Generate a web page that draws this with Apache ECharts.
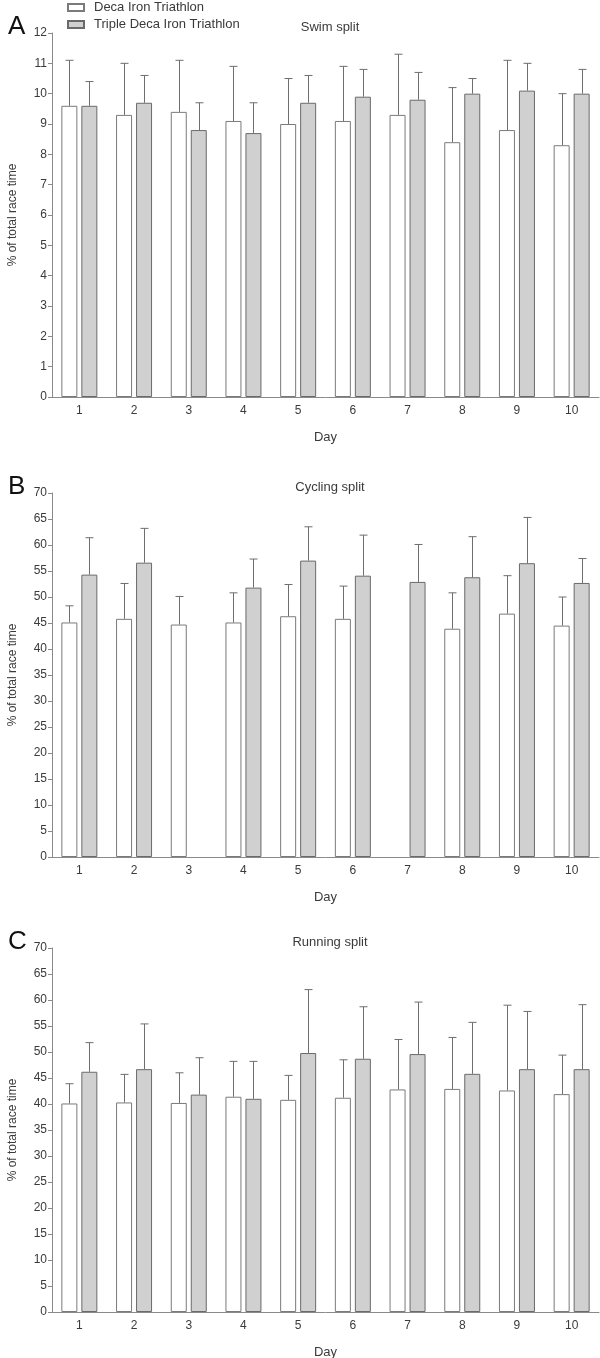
<!DOCTYPE html>
<html lang="en">

<head>
  <meta charset="UTF-8">
  <title>Split times</title>
  <script src="https://cdn.jsdelivr.net/npm/echarts@6/dist/echarts.min.js"></script>
  <style>
    * {
      padding: 0;
      margin: 0;
    }

    #box {
      width: 600px;
      height: 1358px;
      background: #fff;
    }
  </style>
</head>

<body>
  <div id="box"></div>
  <script>
    var days = ['1', '2', '3', '4', '5', '6', '7', '8', '9', '10']

    // swim split (A)
    var swimDeca = [9.6, 9.3, 9.4, 9.1, 9.0, 9.1, 9.3, 8.4, 8.8, 8.3]
    var swimDecaUp = [11.1, 11.0, 11.1, 10.9, 10.5, 10.9, 11.3, 10.2, 11.1, 10.0]
    var swimTriple = [9.6, 9.7, 8.8, 8.7, 9.7, 9.9, 9.8, 10.0, 10.1, 10.0]
    var swimTripleUp = [10.4, 10.6, 9.7, 9.7, 10.6, 10.8, 10.7, 10.5, 11.0, 10.8]

    // cycling split (B)
    var cycDeca = [45.1, 45.8, 44.7, 45.1, 46.3, 45.8, null, 43.9, 46.8, 44.5]
    var cycDecaUp = [48.3, 52.6, 50.1, 50.8, 52.4, 52.1, null, 50.8, 54.1, 50.0]
    var cycTriple = [54.3, 56.6, null, 51.8, 57.0, 54.1, 52.9, 53.8, 56.5, 52.7]
    var cycTripleUp = [61.4, 63.2, null, 57.3, 63.5, 61.9, 60.1, 61.6, 65.3, 57.4]

    // running split (C)
    var runDeca = [40.1, 40.3, 40.2, 41.4, 40.8, 41.2, 42.8, 42.9, 42.6, 41.9]
    var runDecaUp = [43.9, 45.7, 46.0, 48.2, 45.5, 48.5, 52.4, 52.8, 59.0, 49.4]
    var runTriple = [46.2, 46.7, 41.8, 41.0, 49.8, 48.7, 49.6, 45.8, 46.7, 46.7]
    var runTripleUp = [51.8, 55.4, 48.9, 48.2, 62.0, 58.7, 59.6, 55.7, 57.8, 59.1]

    var panels = [
      { letter: 'A', title: 'Swim split', top: 33, max: 12, interval: 1, deca: swimDeca, decaUp: swimDecaUp, triple: swimTriple, tripleUp: swimTripleUp },
      { letter: 'B', title: 'Cycling split', top: 493, max: 70, interval: 5, deca: cycDeca, decaUp: cycDecaUp, triple: cycTriple, tripleUp: cycTripleUp },
      { letter: 'C', title: 'Running split', top: 948, max: 70, interval: 5, deca: runDeca, decaUp: runDecaUp, triple: runTriple, tripleUp: runTripleUp }
    ]

    var font = 'Liberation Sans, Arial, sans-serif'
    var axisColor = '#8a8a8a'
    var textColor = '#3a3a3a'

    function errData(mean, up) {
      var arr = []
      for (let i = 0; i < mean.length; i++) {
        if (mean[i] == null) continue
        arr.push([i, mean[i], up[i]])
      }
      return arr
    }

    function errSeries(idx, mean, up, offset) {
      return {
        type: 'custom',
        xAxisIndex: idx,
        yAxisIndex: idx,
        z: 5,
        silent: true,
        encode: { x: 0, y: [1, 2] },
        data: errData(mean, up),
        renderItem: function (params, api) {
          var p0 = api.coord([api.value(0), api.value(1)])
          var p1 = api.coord([api.value(0), api.value(2)])
          var x = Math.round(p0[0] + offset) + 0.5
          var style = { stroke: '#6e6e6e', lineWidth: 1 }
          return {
            type: 'group',
            children: [
              { type: 'line', shape: { x1: x, y1: p0[1], x2: x, y2: p1[1] }, style: style },
              { type: 'line', shape: { x1: x - 4, y1: p1[1], x2: x + 4, y2: p1[1] }, style: style }
            ]
          }
        }
      }
    }

    var grids = [], xAxes = [], yAxes = [], series = [], titles = []

    for (let k = 0; k < panels.length; k++) {
      var p = panels[k]
      grids.push({ left: 52, width: 547, top: p.top, height: 364, containLabel: false, outerBoundsMode: 'none' })
      xAxes.push({
        type: 'category',
        gridIndex: k,
        data: days,
        name: 'Day',
        nameLocation: 'middle',
        nameGap: 34,
        nameTextStyle: { fontFamily: font, fontSize: 13, color: textColor },
        axisLine: { lineStyle: { color: axisColor } },
        axisTick: { alignWithLabel: true, length: 4, lineStyle: { color: axisColor } },
        axisLabel: { fontFamily: font, fontSize: 12, color: textColor, margin: 8 }
      })
      yAxes.push({
        type: 'value',
        gridIndex: k,
        min: 0,
        max: p.max,
        interval: p.interval,
        name: '% of total race time',
        nameLocation: 'middle',
        nameRotate: 90,
        nameGap: 33,
        nameTextStyle: { fontFamily: font, fontSize: 12, color: textColor },
        axisLine: { show: true, lineStyle: { color: axisColor } },
        axisTick: { show: true, length: 4, lineStyle: { color: axisColor } },
        axisLabel: { fontFamily: font, fontSize: 12, color: textColor, margin: 5 },
        splitLine: { show: false }
      })
      series.push({
        name: 'Deca Iron Triathlon',
        type: 'bar',
        xAxisIndex: k,
        yAxisIndex: k,
        barWidth: 16,
        barGap: '25%',
        itemStyle: { color: '#ffffff', borderColor: '#7a7a7a', borderWidth: 1 },
        data: p.deca
      })
      series.push({
        name: 'Triple Deca Iron Triathlon',
        type: 'bar',
        xAxisIndex: k,
        yAxisIndex: k,
        barWidth: 16,
        itemStyle: { color: '#d0d0d0', borderColor: '#6a6a6a', borderWidth: 1 },
        data: p.triple
      })
      series.push(errSeries(k, p.deca, p.decaUp, -10))
      series.push(errSeries(k, p.triple, p.tripleUp, 10))
      titles.push({
        text: p.letter,
        left: 3,
        top: p.top - 24,
        textStyle: { fontFamily: font, fontSize: 26, fontWeight: 'normal', color: '#111' }
      })
      titles.push({
        text: p.title,
        left: 325,
        textAlign: 'center',
        top: p.top - 17,
        textStyle: { fontFamily: font, fontSize: 13, fontWeight: 'normal', color: textColor }
      })
    }

    var mCharts = echarts.init(document.getElementById('box'))
    var option = {
      animation: false,
      backgroundColor: '#fff',
      title: titles,
      legend: {
        orient: 'vertical',
        left: 67,
        top: 1,
        padding: 0,
        itemWidth: 16,
        itemHeight: 7,
        itemGap: 4,
        icon: 'rect',
        data: ['Deca Iron Triathlon', 'Triple Deca Iron Triathlon'],
        textStyle: { fontFamily: font, fontSize: 13, color: textColor, padding: [0, 0, 0, 5] }
      },
      grid: grids,
      xAxis: xAxes,
      yAxis: yAxes,
      series: series
    }
    mCharts.setOption(option)
  </script>
</body>

</html>
